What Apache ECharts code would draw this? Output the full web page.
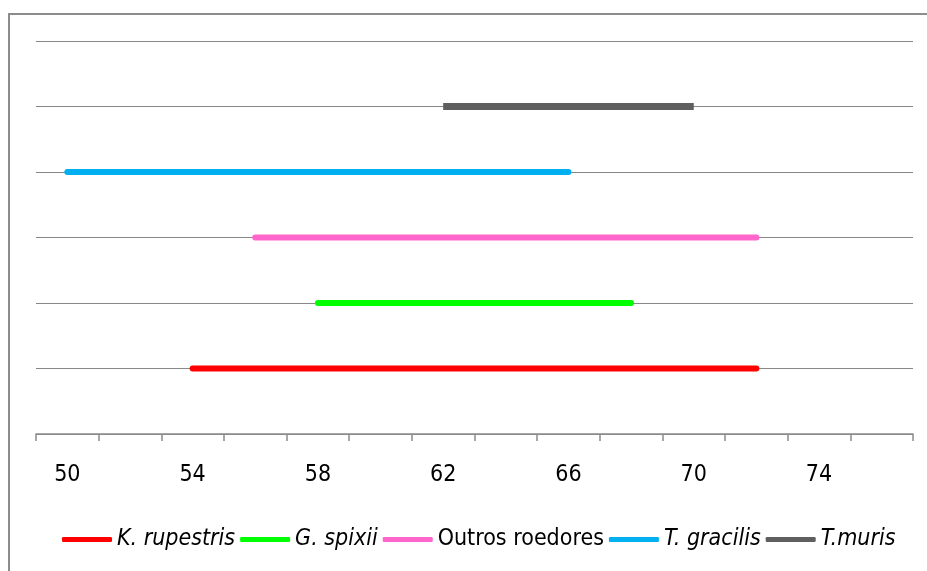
<!DOCTYPE html>
<html>
<head>
<meta charset="utf-8">
<script src="https://cdn.jsdelivr.net/npm/echarts@6/dist/echarts.min.js"></script>
<style>
  html, body { margin: 0; padding: 0; background: #fff; }
  #box { width: 927px; height: 571px; }
</style>
</head>
<body>
<div id="box"></div>
<script>
// species, in the order of the legend (bottom row first)
const species = ['K. rupestris', 'G. spixii', 'Outros roedores', 'T. gracilis', 'T.muris'];
const rangeStart = [54, 58, 56, 50, 62];
const rangeEnd = [72, 68, 72, 66, 70];
const rowPos = [1, 2, 3, 4, 5];
const colors = ['#ff0000', '#00ff00', '#ff66cc', '#00b0f0', '#5f5f5f'];
const tickValues = [49, 51, 53, 55, 57, 59, 61, 63, 65, 67, 69, 71, 73, 75, 77];
const labelValues = [50, 54, 58, 62, 66, 70, 74];

const font = '"Liberation Sans Narrow", "Arial Narrow", "DejaVu Sans Condensed", sans-serif';

const chart = echarts.init(document.getElementById('box'));

const seriesList = species.map((name, i) => ({
  name: name,
  type: 'line',
  data: [[rangeStart[i], rowPos[i]], [rangeEnd[i], rowPos[i]]],
  showSymbol: false,
  symbol: 'none',
  silent: true,
  lineStyle: {
    color: colors[i],
    width: i === 4 ? 7 : 6,
    cap: i === 4 ? 'butt' : 'round'
  },
  itemStyle: { color: colors[i] }
}));

const option = {
  animation: false,
  backgroundColor: '#fff',
  graphic: [{
    type: 'rect',
    shape: { x: 9, y: 14, width: 940, height: 600 },
    style: { fill: 'none', stroke: '#8c8c8c', lineWidth: 2 },
    silent: true
  }],
  grid: { left: 36, right: 14, top: 41, bottom: 137 },
  legend: {
    top: 523,
    left: 57,
    itemWidth: 50,
    itemHeight: 5,
    itemGap: 5,
    icon: 'roundRect',
    data: species,
    formatter: name => name === 'Outros roedores' ? '{n|' + name + '}' : '{i|' + name + '}',
    textStyle: {
      padding: [0, 0, 0, 0],
      rich: {
        n: { fontFamily: font, fontSize: 23, color: '#000' },
        i: { fontFamily: font, fontSize: 23, fontStyle: 'italic', color: '#000' }
      }
    }
  },
  xAxis: {
    type: 'value',
    min: 49,
    max: 77,
    interval: 2,
    axisLine: { show: true, lineStyle: { color: '#8a8a8a', width: 1.5 } },
    axisTick: {
      show: true,
      customValues: tickValues,
      length: 7,
      lineStyle: { color: '#8a8a8a', width: 1.5 }
    },
    axisLabel: {
      customValues: labelValues,
      margin: 30,
      fontFamily: font,
      fontSize: 23,
      color: '#000'
    },
    splitLine: { show: false }
  },
  yAxis: {
    type: 'value',
    min: 0,
    max: 6,
    interval: 1,
    axisLine: { show: false },
    axisTick: { show: false },
    axisLabel: { show: false },
    splitLine: { show: true, lineStyle: { color: '#878787', width: 1.2 } }
  },
  series: seriesList
};

chart.setOption(option);
</script>
</body>
</html>
